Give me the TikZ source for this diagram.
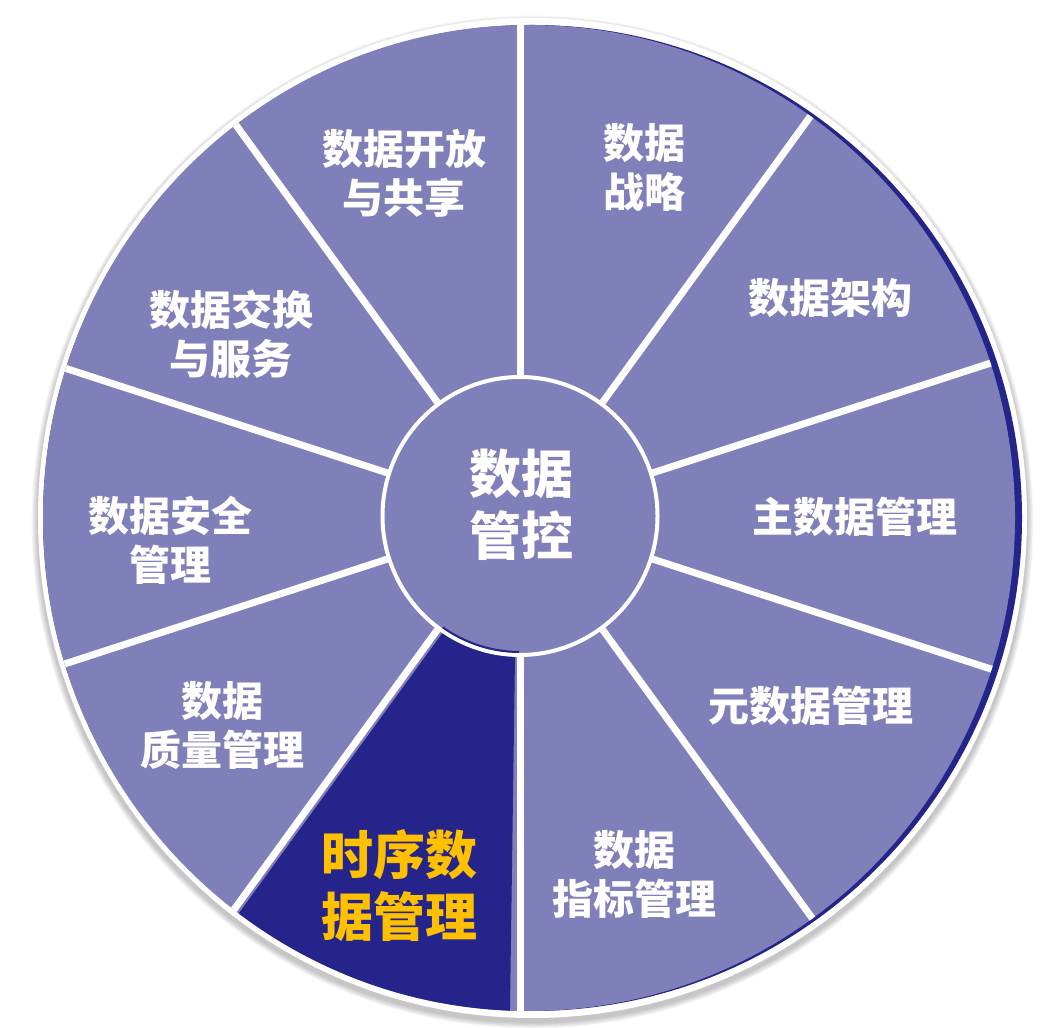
\documentclass[tikz,border=0pt]{standalone}
\usepackage{fontspec}
\newfontfamily\cjk{Noto Sans CJK SC}
\usetikzlibrary{calc}
\definecolor{purp}{HTML}{7F7FB9}
\definecolor{navy}{HTML}{24248A}
\definecolor{gold}{HTML}{FFC000}
\tikzset{
  lab/.style={text=white, align=center, inner sep=0pt,
    font=\cjk\bfseries\fontsize{41}{49}\selectfont},
  hublab/.style={text=white, align=center, inner sep=0pt,
    font=\cjk\bfseries\fontsize{52}{62}\selectfont},
  hilab/.style={text=gold, align=center, inner sep=0pt,
    font=\cjk\bfseries\fontsize{52}{62}\selectfont},
  spoke/.style={white, line width=7pt},
}
\begin{document}
\begin{tikzpicture}[x=1pt,y=1pt]
\useasboundingbox (0,0) rectangle (1040,1027);
\coordinate (H) at (520,511);
\coordinate (O) at (529,509);
% soft shadow
\foreach \i in {1,...,8}
  \fill[black, opacity=0.03] (532.5,505) ellipse [x radius={494.5+\i*0.8}, y radius={500+\i*0.8}];
% white ring
\fill[white] (532.5,509) ellipse [x radius=494.5, y radius=500];
% navy crescent
\fill[navy] (532.5,509) ellipse [x radius=489.5, y radius=493];
% purple disk
\fill[purp] (O) ellipse [x radius=486, y radius=493];
\begin{scope}
  \clip (O) ellipse [x radius=486, y radius=493];
  % highlighted sector
  \fill[navy] ($(H)+(4.85,-3.53)$) -- ++(-126:700) -- (508.3,-100) -- (517,511) -- cycle;
  % spokes
  \foreach \a in {90,54,18,-18,-54,-90,-126,-162,162,126}
    \draw[spoke] (H) -- ++(\a:540);
\end{scope}
% hub
\draw[white, line width=4pt, fill=purp] (H) ellipse [x radius=137.5, y radius=139];
\draw[navy, line width=2pt] (H) ++(-125:134.5 and 136) arc[start angle=-125, end angle=-90.5, x radius=134.5, y radius=136];
% labels
\node[hublab] (hub) at (521,522) {数据\\管控};
\node[lab] (s1) at (644,860) {数据\\战略};
\node[lab] (s2) at (830,729) {数据架构};
\node[lab] (s3) at (855,510) {主数据管理};
\node[lab] (s4) at (811,321) {元数据管理};
\node[lab] (s5) at (634,153) {数据\\指标管理};
\node[hilab] (s6) at (399,141) {时序数\\据管理};
\node[lab] (s7) at (222,302) {数据\\质量管理};
\node[lab] (s8) at (170,487) {数据安全\\管理};
\node[lab] (s9) at (231,693) {数据交换\\与服务};
\node[lab] (s10) at (404,854) {数据开放\\与共享};
\end{tikzpicture}
\end{document}
